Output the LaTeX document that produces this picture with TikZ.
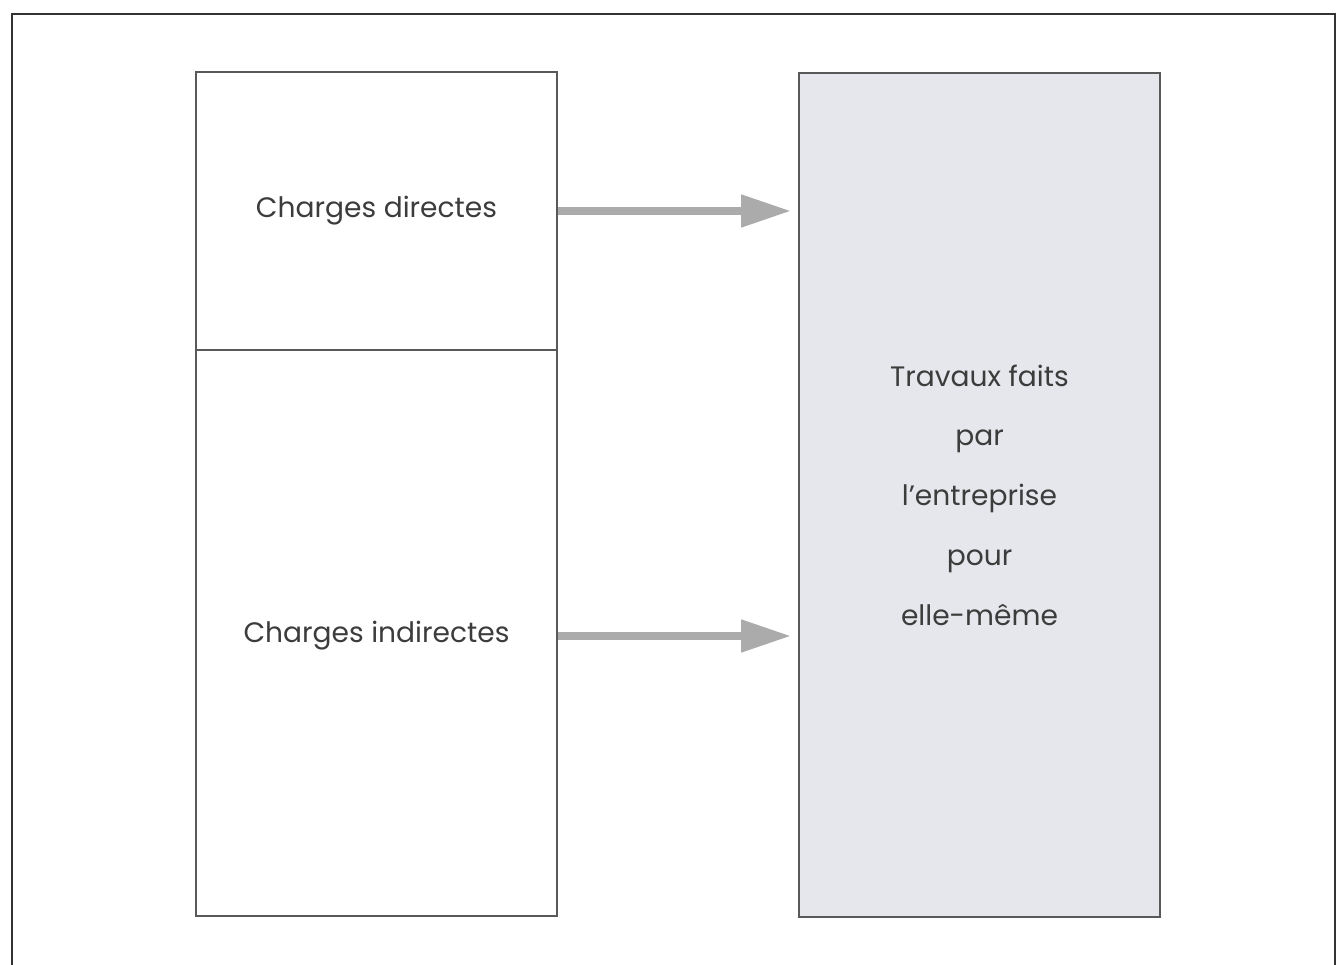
\documentclass[tikz,border=0pt]{standalone}
\usepackage{fontspec}
\setmainfont{Poppins}
\usepackage{xcolor}
\usepackage{tikz}
\usetikzlibrary{positioning,arrows.meta}

\definecolor{texte}{HTML}{3C3C3C}
\definecolor{fleche}{HTML}{ABABAB}
\definecolor{fond}{HTML}{E5E7EC}

\begin{document}
\begin{tikzpicture}[font=\fontsize{16pt}{34pt}\selectfont, text=texte]

    \useasboundingbox (0,0) rectangle (26.82,19.28);

    % Cadre exterieur (ouvert en bas)
    \draw[line width=1.6pt, color=black!80] (0.24,-0.2) -- (0.24,19.0) -- (26.7,19.0) -- (26.7,-0.2);

    % Colonne des charges
    \node (directes) at (7.53,15.06) [rectangle, draw=black!65, line width=1.1pt, minimum width=7.22cm, minimum height=5.56cm] {Charges directes};
    \node (indirectes) at (7.53,6.62) [rectangle, draw=black!65, line width=1.1pt, minimum width=7.22cm, minimum height=11.32cm] {};
    \node (txtindirectes) at (7.53,6.56) {Charges indirectes};

    % Travaux faits par l'entreprise
    \node (travaux) at (19.59,9.38) [rectangle, draw=black!65, line width=1.1pt, fill=fond, minimum width=7.22cm, minimum height=16.88cm, align=center] {Travaux faits\\par\\l’entreprise\\pour\\elle-même};

    % Fleches vers les travaux
    \draw[fleche, line width=0.16cm, -{Triangle[length=1.0cm, width=0.62cm]}, shorten >=0.14cm] (directes.east) -- (directes.east -| travaux.west);
    \draw[fleche, line width=0.16cm, -{Triangle[length=1.0cm, width=0.62cm]}, shorten >=0.14cm] (txtindirectes -| indirectes.east) -- (txtindirectes -| travaux.west);

\end{tikzpicture}
\end{document}
